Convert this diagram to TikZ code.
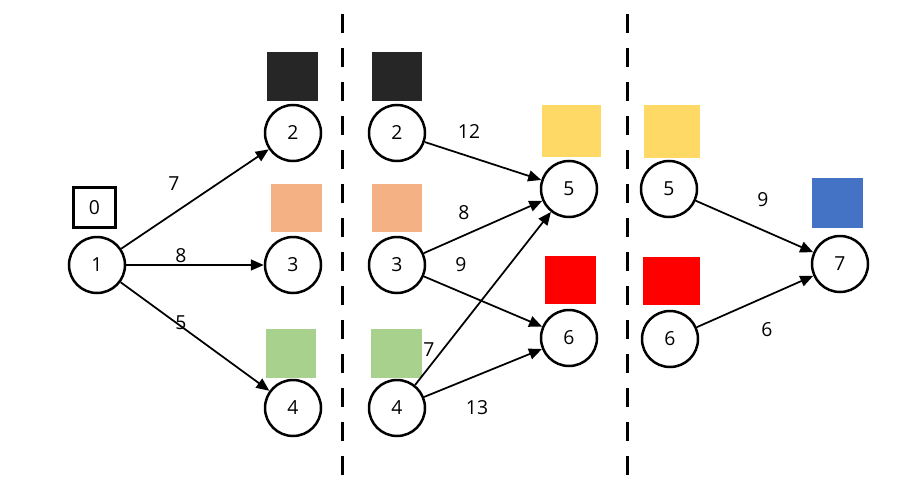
\documentclass[tikz,border=0pt]{standalone}
\usepackage{fontspec}
\setmainfont{Open Sans}
\usetikzlibrary{arrows.meta}
\definecolor{tileblack}{HTML}{262626}
\definecolor{tileorange}{HTML}{F4B183}
\definecolor{tilegreen}{HTML}{A9D18E}
\definecolor{tileyellow}{HTML}{FFD966}
\definecolor{tilered}{HTML}{FF0000}
\definecolor{tileblue}{HTML}{4472C4}
\tikzset{
  vertex/.style={circle, draw=black, line width=0.5mm, minimum size=11.2mm, inner sep=0pt, font=\fontsize{11}{13}\selectfont},
  tile/.style={rectangle, inner sep=0pt, draw=none},
  link/.style={line width=0.35mm, -{Triangle[length=2.6mm,width=2.2mm]}},
  weight/.style={font=\fontsize{11}{13}\selectfont, inner sep=0pt},
  divider/.style={line width=0.6mm, dash pattern=on 3.8mm off 3mm}
}
\begin{document}
\begin{tikzpicture}[x=0.2mm, y=-0.2mm]
\useasboundingbox (0,0) rectangle (900,487);
% Stage separators
\draw[divider] (342,14) -- (342,478);
\draw[divider] (627,14) -- (627,478);
% Vertices
\node[vertex] (n1) at (97,265) {1};
\node[draw=black, line width=0.5mm, minimum width=8.4mm, minimum height=8mm, inner sep=0pt, font=\fontsize{11}{13}\selectfont] (s0) at (94.5,207.5) {0};
\foreach \nm/\x/\y/\lab in {a2/293/133/2, a3/293/265/3, a4/293/408/4,
  b2/397/133/2, b3/397/265/3, b4/397/408/4, b5/569/189/5, b6/569/338/6,
  c5/669/189/5, c6/670/339/6, c7/840/264/7} {
  \node[vertex] (\nm) at (\x,\y) {\lab};
}
% Colour tiles
\foreach \nm/\x/\y/\w/\h/\col in {
  ta2/292.5/76.5/51/49/tileblack,
  tb2/397/76.5/50/49/tileblack,
  ta3/296.5/208/51/48/tileorange,
  tb3/397/208/50/48/tileorange,
  ta4/291/353.5/50/49/tilegreen,
  tb4/396.5/353.5/51/49/tilegreen,
  tb5/571.5/131/59/52/tileyellow,
  tc5/672/131.5/56/53/tileyellow,
  tb6/570.5/280/51/48/tilered,
  tc6/671.5/281/57/48/tilered,
  tc7/837.5/203/51/50/tileblue} {
  \node[tile, fill=\col, minimum width=\w*0.2mm, minimum height=\h*0.2mm] (\nm) at (\x,\y) {};
}
% Edges
\draw[link] (n1) -- (a2);
\draw[link] (n1) -- (a3);
\draw[link] (n1) -- (a4);
\draw[link] (b2) -- (b5);
\draw[link] (b3) -- (b5);
\draw[link] (b3) -- (b6);
\draw[link] (b4) -- (b5);
\draw[link] (b4) -- (b6);
\draw[link] (c5) -- (c7);
\draw[link] (c6) -- (c7);
% Weights
\node[weight] (w12) at (174,184) {7};
\node[weight] (w13) at (181,256) {8};
\node[weight] (w14) at (181,323) {5};
\node[weight] (w25) at (469,132) {12};
\node[weight] (w35) at (464,213) {8};
\node[weight] (w36) at (461,265) {9};
\node[weight] (w45) at (429,350) {7};
\node[weight] (w46) at (477,408) {13};
\node[weight] (w57) at (763,200) {9};
\node[weight] (w67) at (767,330) {6};
\end{tikzpicture}
\end{document}
